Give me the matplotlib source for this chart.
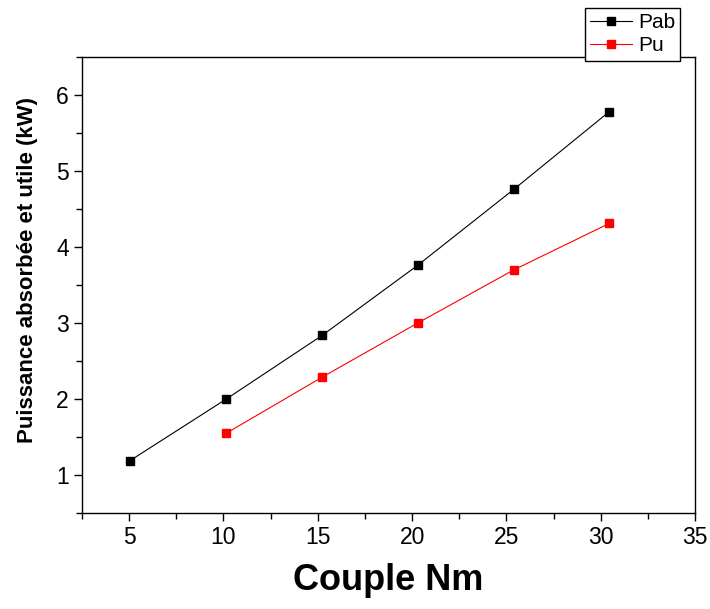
import matplotlib.pyplot as plt
from matplotlib.ticker import MultipleLocator

plt.rcParams['font.family'] = ['Liberation Sans', 'DejaVu Sans']

# data
couple_pab = [5.05, 10.15, 15.25, 20.3, 25.4, 30.45]
pab = [1.19, 2.0, 2.84, 3.76, 4.76, 5.78]
couple_pu = [10.15, 15.25, 20.3, 25.4, 30.45]
pu = [1.55, 2.29, 3.0, 3.7, 4.31]

fig = plt.figure(figsize=(7.1, 6.09), dpi=100)
ax = fig.add_axes([0.1155, 0.1576, 0.8634, 0.7488])

ax.plot(couple_pab, pab, color='black', lw=0.8, marker='s', ms=5.8, label='Pab')
ax.plot(couple_pu, pu, color='red', lw=0.8, marker='s', ms=5.8, label='Pu')

ax.set_xlim(2.5, 35)
ax.set_ylim(0.5, 6.5)
ax.xaxis.set_major_locator(MultipleLocator(5))
ax.xaxis.set_minor_locator(MultipleLocator(2.5))
ax.yaxis.set_major_locator(MultipleLocator(1))
ax.yaxis.set_minor_locator(MultipleLocator(0.5))
ax.tick_params(which='both', direction='out', top=False, right=False, labelsize=16.5)
ax.tick_params(which='major', length=6, width=1)
ax.tick_params(which='minor', length=4, width=1)
for s in ax.spines.values():
    s.set_linewidth(1)

ax.set_xlabel('Couple Nm', fontsize=26, fontweight='bold', labelpad=10)
ax.set_ylabel('Puissance absorbée et utile (kW)', fontsize=16, fontweight='bold')
ax.yaxis.set_label_coords(-0.072, 0.532)

leg = fig.legend(loc='upper right', bbox_to_anchor=(0.958, 0.987), fontsize=15,
                 frameon=True, fancybox=False, edgecolor='black', framealpha=1,
                 handlelength=2.0, handletextpad=0.3, borderpad=0.25, labelspacing=0.2,
                 borderaxespad=0)
leg.get_frame().set_linewidth(1)

fig.savefig('out.png', dpi=100)
